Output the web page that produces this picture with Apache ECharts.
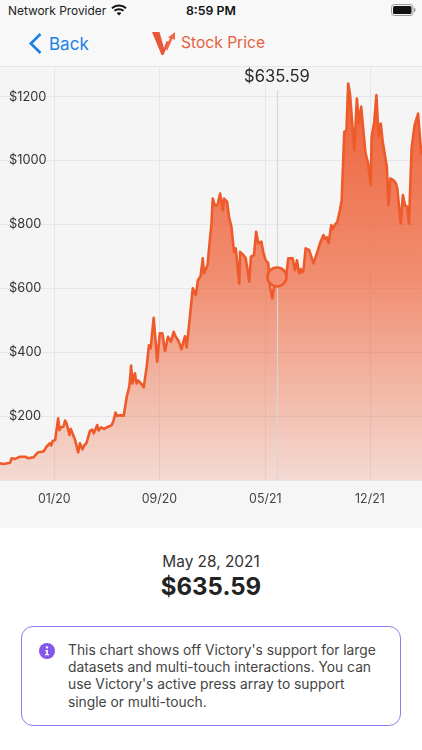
<!DOCTYPE html>
<html>
<head>
<meta charset="utf-8">
<script src="https://cdn.jsdelivr.net/npm/echarts@6/dist/echarts.min.js"></script>
<style>
  html, body { margin: 0; padding: 0; background: #fff; font-family: Inter, "Noto Sans", sans-serif; color: #222; }
  #page { position: relative; width: 422px; height: 750px; overflow: hidden; }
  #top { position: absolute; left: 0; top: 0; width: 422px; height: 66px; background: #f8f8f8; }
  #chart { position: absolute; left: 0; top: 66px; width: 422px; height: 462px; }
  .abs { position: absolute; white-space: nowrap; }
  #card { position: absolute; left: 21px; top: 626px; width: 378px; height: 98px; border: 1px solid #9678ec; border-radius: 12px; }
</style>
</head>
<body>
<div id="page">
  <div id="top">
    <div class="abs" style="left:8px;top:3px;font-size:11.9px;line-height:16px;color:#222">Network Provider</div>
    <svg class="abs" style="left:111px;top:4px" width="16" height="12" viewBox="0 0 16 12">
      <path d="M1 4.2C5 .6 11 .6 15 4.2" fill="none" stroke="#111" stroke-width="2"/>
      <path d="M3.5 6.8C6 4.6 10 4.6 12.5 6.8" fill="none" stroke="#111" stroke-width="2"/>
      <path d="M8 11.5 5.6 9C7 7.9 9 7.9 10.4 9Z" fill="#111"/>
    </svg>
    <div class="abs" style="left:186px;top:3px;font-size:12.3px;line-height:16px;font-weight:600;color:#111">8:59 PM</div>
    <svg class="abs" style="left:391px;top:4px" width="25" height="12" viewBox="0 0 25 12">
      <rect x="0.5" y="0.5" width="21.5" height="11" rx="3" fill="none" stroke="#999"/>
      <rect x="2" y="2" width="18.5" height="8" rx="1.6" fill="#111"/>
      <rect x="23" y="4" width="1.4" height="4" rx=".7" fill="#999"/>
    </svg>
    <svg class="abs" style="left:28px;top:32px" width="15" height="23" viewBox="0 0 15 23">
      <path d="M12.5 2 2.8 11.5 12.5 21" fill="none" stroke="#1c7fe6" stroke-width="2.6"/>
    </svg>
    <div class="abs" style="left:49px;top:33px;font-size:17px;line-height:22px;color:#1c7fe6">Back</div>
    <svg class="abs" style="left:151px;top:30px" width="27" height="26" viewBox="0 0 27 26">
      <path d="M1 2H8.5L13 18 15.5 11 18 12 12.5 25H10.5Z" fill="#e8573a"/>
      <path d="M14.5 17 19 8 17 7.5 24 2 24 10 21.5 8.8 16 21Z" fill="#ef6a4a"/>
    </svg>
    <div class="abs" style="left:181px;top:32px;font-size:15.6px;line-height:22px;color:#e8603f">Stock Price</div>
  </div>
  <div id="chart"></div>
  <div class="abs" style="left:0;width:422px;top:552px;text-align:center;font-size:15.4px;line-height:20px;color:#333">May 28, 2021</div>
  <div class="abs" style="left:0;width:422px;top:572px;text-align:center;font-size:24px;line-height:30px;font-weight:700;color:#222">$635.59</div>
  <div id="card"></div>
  <svg class="abs" style="left:39px;top:643px" width="16" height="16" viewBox="0 0 16 16">
    <circle cx="8" cy="8" r="8" fill="#8557e8"/>
    <circle cx="8" cy="4.4" r="1.2" fill="#fff"/>
    <path d="M6.4 7H8.9V11H10V12.2H6V11H7.2V8.2H6.4Z" fill="#fff"/>
  </svg>
  <div class="abs" style="left:68px;top:642px;font-size:13.8px;line-height:17.2px;color:#444">This chart shows off Victory's support for large<br>datasets and multi-touch interactions. You can<br>use Victory's active press array to support<br>single or multi-touch.</div>
</div>
<script>
// days since the first point of the window (end of Aug 2019)
const days = [0, 8, 23, 27, 30, 35, 46, 58, 65, 77, 88, 100, 104, 107, 110, 115, 118, 121, 124, 127, 134, 137, 140, 143, 146, 150, 153, 160, 163, 173, 180, 184, 190, 194, 199, 207, 212, 216, 219, 224, 227, 230, 233, 236, 240, 246, 252, 257, 261, 266, 270, 276, 285, 292, 298, 302, 305, 308, 311, 313, 315, 318, 322, 326, 329, 331, 338, 343, 347, 354, 362, 368, 374, 380, 387, 394, 400, 404, 407, 410, 414, 418, 422, 426, 430, 433, 437, 444, 451, 456, 462, 467, 470, 478, 483, 487, 490, 495, 501, 507, 513, 516, 523, 528, 533, 539, 543, 551, 553, 561, 566, 574, 578, 585, 590, 595, 602, 607, 612, 618, 622, 627, 631, 638, 648, 658, 664, 674, 679, 684, 689, 693, 696, 699, 704, 712, 716, 722, 731, 737, 745, 748, 750, 753, 757, 760, 763, 766, 768, 772, 777, 783, 787, 793, 798, 802, 806, 812, 816, 822, 827, 832, 839, 842, 848, 854, 856, 862, 867, 872, 877, 881, 885, 891, 895, 899, 906, 912, 915, 923, 928, 933, 938, 942, 948, 955, 963, 969, 972];
const prices = [52, 50, 54, 68, 64, 66, 73, 73, 68, 71, 87, 89, 97, 104, 100, 115, 108, 122, 116, 125, 193, 156, 165, 160, 167, 186, 179, 141, 160, 125, 86, 115, 96, 108, 115, 153, 158, 146, 149, 172, 155, 156, 165, 170, 160, 165, 168, 172, 183, 211, 200, 203, 201, 261, 294, 358, 302, 325, 334, 310, 302, 312, 307, 300, 305, 290, 355, 422, 412, 508, 370, 459, 459, 404, 448, 433, 464, 450, 445, 438, 425, 409, 430, 450, 415, 412, 506, 600, 579, 626, 638, 694, 647, 673, 746, 800, 881, 860, 860, 897, 845, 881, 871, 819, 793, 714, 725, 615, 714, 704, 694, 621, 699, 704, 777, 741, 746, 709, 688, 678, 605, 568, 605, 636, 615, 626, 694, 694, 657, 688, 647, 660, 650, 657, 725, 720, 725, 678, 714, 741, 767, 755, 751, 760, 741, 770, 798, 785, 788, 800, 808, 845, 876, 1090, 1095, 1241, 1210, 1105, 1033, 1194, 1116, 1168, 1064, 1022, 991, 923, 1074, 1121, 1205, 1074, 1116, 1064, 1059, 980, 860, 944, 939, 928, 913, 803, 892, 860, 855, 803, 1038, 1111, 1147, 1043, 1017];
const xTickDays = [125, 367, 611, 852];
const xTickLabels = ['01/20', '09/20', '05/21', '12/21'];
const yTicks = [200, 400, 600, 800, 1000, 1200];

const activeDay = 638;
const activePrice = 635.59;

const chart = echarts.init(document.getElementById('chart'));
chart.setOption({
  animation: false,
  backgroundColor: '#f6f6f6',
  grid: { left: 0, right: 0, top: 0, bottom: 48, show: true, backgroundColor: '#f5f5f5', borderWidth: 0 },
  xAxis: {
    type: 'value',
    min: 0,
    max: 972,
    axisLine: { show: false },
    axisTick: { show: false, customValues: xTickDays },
    axisLabel: {
      customValues: xTickDays,
      margin: 13,
      color: '#444',
      fontSize: 12.4,
      fontFamily: 'Inter',
      formatter: v => xTickLabels[xTickDays.indexOf(v)]
    },
    splitLine: { show: true, lineStyle: { color: '#e6e6e8', width: 1 } }
  },
  yAxis: {
    type: 'value',
    min: 0,
    max: 1296,
    interval: 200,
    axisLine: { show: false },
    axisTick: { show: false },
    axisLabel: {
      inside: true,
      margin: 9,
      color: '#333',
      fontSize: 12.8,
      fontFamily: 'Inter',
      formatter: v => (yTicks.includes(v) ? '$' + v : '')
    },
    splitLine: { show: true, lineStyle: { color: '#e6e6e8', width: 1 } }
  },
  series: [{
    type: 'line',
    data: days.map((d, i) => [d, prices[i]]),
    symbol: 'none',
    lineStyle: { color: '#ef5a2a', width: 2.6, join: 'round' },
    areaStyle: {
      opacity: 1,
      color: new echarts.graphic.LinearGradient(0, 0, 0, 1, [
        { offset: 0, color: 'rgba(238,85,40,0.92)' },
        { offset: 0.5, color: 'rgba(238,85,40,0.64)' },
        { offset: 1, color: 'rgba(238,85,40,0.17)' }
      ])
    },
    z: 3,
    markLine: {
      silent: true,
      symbol: 'none',
      lineStyle: { color: 'rgba(214,214,216,0.95)', width: 1.2, type: 'solid' },
      label: {
        position: 'end',
        distance: 5,
        color: '#2a2a2a',
        fontSize: 16.6,
        fontFamily: 'Inter',
        formatter: '$' + activePrice.toFixed(2)
      },
      data: [[{ coord: [activeDay, 0] }, { coord: [activeDay, 1220] }]]
    },
    markPoint: {
      silent: true,
      symbol: 'circle',
      symbolSize: 19,
      label: { show: false },
      itemStyle: { color: '#f58f74', borderColor: '#ef5a2a', borderWidth: 2.5 },
      data: [{ coord: [activeDay, activePrice] }]
    }
  }]
});
</script>
</body>
</html>
